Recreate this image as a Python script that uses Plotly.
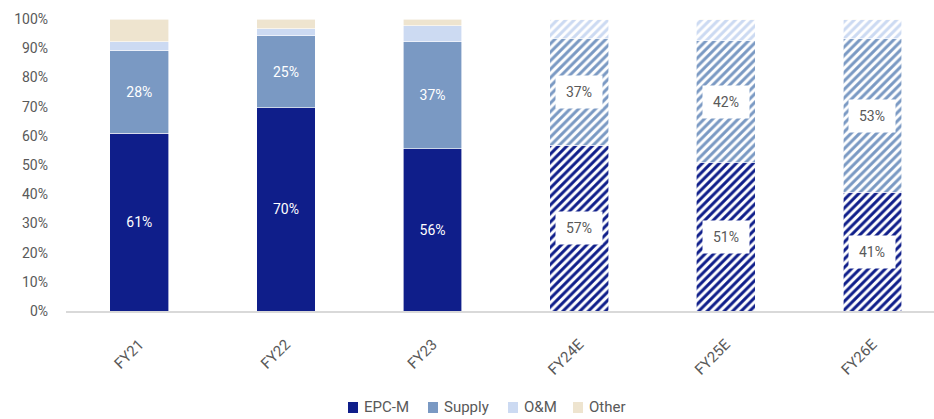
import plotly.graph_objects as go

# Revenue mix by segment (% of total)
years = ["FY21", "FY22", "FY23", "FY24E", "FY25E", "FY26E"]
epc_m = [60.8, 69.6, 55.6, 56.8, 50.8, 40.6]
supply = [28.3, 24.6, 36.6, 36.6, 41.8, 52.6]
o_and_m = [3.1, 2.4, 5.5, 6.3, 7.1, 6.5]
other = [7.8, 3.4, 2.3, 0.3, 0.3, 0.3]
is_estimate = [False, False, False, True, True, True]

series_names = ["EPC-M", "Supply", "O&M", "Other"]
series_values = [epc_m, supply, o_and_m, other]
series_colors = ["#0F1E8A", "#7A99C3", "#CCDAF2", "#EEE4CF"]
series_labelled = [True, True, False, False]

FONT = "Roboto, Arial, sans-serif"
GREY = "#595959"

# plot-area geometry in pixels, used for the hand-placed legend
W, H = 934, 419
ML, MR, MT, MB = 66, 0, 19, 108
PW, PH = W - ML - MR, H - MT - MB


def px_x(px):
    return (px - ML) / PW


def px_y(py):
    return (H - MB - py) / PH


fig = go.Figure()
for name, vals, color, labelled in zip(series_names, series_values,
                                       series_colors, series_labelled):
    text = [f"{v:.0f}%" if (labelled and not est) else ""
            for v, est in zip(vals, is_estimate)]
    fig.add_trace(go.Bar(
        name=name,
        x=years,
        y=vals,
        width=0.4,
        marker=dict(
            color=color,
            line=dict(color="white", width=0.6),
            pattern=dict(
                shape=["/" if e else "" for e in is_estimate],
                fgcolor=color,
                bgcolor="white",
                fgopacity=1,
                size=6,
                solidity=0.5,
                fillmode="replace",
            ),
        ),
        text=text,
        textposition="inside",
        insidetextanchor="middle",
        textfont=dict(color="white", size=14, family=FONT),
        hoverinfo="skip",
        showlegend=False,
    ))

# Boxed value labels on the estimate bars
annotations = []
for i, est in enumerate(is_estimate):
    if not est:
        continue
    base = 0
    for vals, labelled in zip(series_values, series_labelled):
        v = vals[i]
        if labelled:
            annotations.append(dict(
                x=years[i], y=base + v / 2, xref="x", yref="y",
                text=f"{v:.0f}%", showarrow=False,
                font=dict(size=14, color=GREY, family=FONT),
                bgcolor="white", borderpad=8,
                width=30,
            ))
        base += v

# Legend: small colour squares followed by the series names
shapes = []
legend_starts = [348, 428, 508, 573]
for name, color, x0 in zip(series_names, series_colors, legend_starts):
    shapes.append(dict(
        type="rect", xref="paper", yref="paper",
        x0=px_x(x0), x1=px_x(x0 + 10),
        y0=px_y(413), y1=px_y(402),
        fillcolor=color, line=dict(width=0),
    ))
    annotations.append(dict(
        x=px_x(x0 + 14), y=px_y(406.5), xref="paper", yref="paper",
        xanchor="left", yanchor="middle",
        text=name, showarrow=False,
        font=dict(size=15, color=GREY, family=FONT),
    ))

fig.update_layout(
    barmode="stack",
    width=W,
    height=H,
    margin=dict(l=ML, r=MR, t=MT, b=MB),
    plot_bgcolor="white",
    paper_bgcolor="white",
    font=dict(family=FONT, size=14, color=GREY),
    showlegend=False,
    annotations=annotations,
    shapes=shapes,
)
fig.update_xaxes(
    range=[-0.5, 5.42],
    tickangle=-45,
    showline=True,
    linecolor="#D9D9D9",
    linewidth=1.5,
    showgrid=False,
    ticks="",
    ticklabelstandoff=17,
    tickfont=dict(size=15, color=GREY, family=FONT),
)
fig.update_yaxes(
    range=[0, 100],
    tickvals=list(range(0, 101, 10)),
    ticktext=[f"{v}%" for v in range(0, 101, 10)],
    showgrid=False,
    zeroline=False,
    showline=False,
    ticks="",
    ticklabelstandoff=17,
    tickfont=dict(size=14, color=GREY, family=FONT),
)

fig.write_html("out.html")
